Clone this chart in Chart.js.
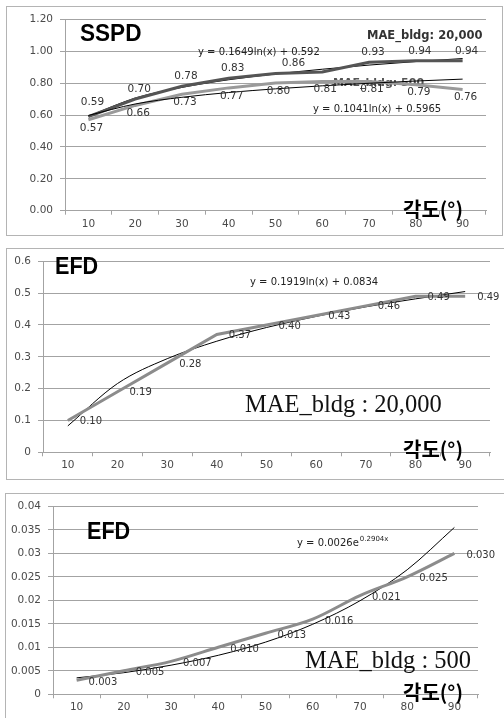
<!DOCTYPE html>
<html>
<head>
<meta charset="utf-8">
<script src="https://cdn.jsdelivr.net/npm/chart.js@4.4.1/dist/chart.umd.min.js"></script>
<style>
  html, body { margin: 0; padding: 0; background: #fff; }
  body { width: 504px; height: 718px; position: relative; overflow: hidden; }
  canvas { position: absolute; }
  .frame { position: absolute; box-sizing: border-box; border: 1px solid #b4b4b4; pointer-events: none; }
</style>
</head>
<body>
<canvas id="c1" width="496" height="229" style="left:6px;top:6px"></canvas>
<div class="frame" style="left:6px;top:6px;width:497px;height:230px"></div>
<canvas id="c2" width="498" height="231" style="left:6px;top:248px"></canvas>
<div class="frame" style="left:6px;top:248px;width:499px;height:232px"></div>
<canvas id="c3" width="499" height="226" style="left:5px;top:493px"></canvas>
<div class="frame" style="left:5px;top:493px;width:500px;height:227px"></div>

<script>
// Angle categories shared by all three charts
const angles = ['10', '20', '30', '40', '50', '60', '70', '80', '90'];

// SSPD, two building sizes, with their log trend lines
const sspd20000 = [0.59, 0.70, 0.78, 0.83, 0.86, 0.87, 0.93, 0.94, 0.94];
const sspd500 = [0.57, 0.66, 0.73, 0.77, 0.80, 0.81, 0.81, 0.79, 0.76];
const sspd20000Trend = [0.592, 0.706, 0.773, 0.821, 0.857, 0.887, 0.913, 0.935, 0.954];
const sspd500Trend = [0.597, 0.669, 0.711, 0.741, 0.764, 0.783, 0.799, 0.813, 0.825];
const sspdTicks = ['0.00', '0.20', '0.40', '0.60', '0.80', '1.00', '1.20'];

// EFD, MAE_bldg 20,000 (log trend)
const efd20000 = [0.10, 0.19, 0.28, 0.37, 0.40, 0.43, 0.46, 0.49, 0.49];
const efd20000Trend = [0.083, 0.216, 0.294, 0.349, 0.392, 0.427, 0.457, 0.482, 0.505];
const efd20000Ticks = ['0', '0.1', '0.2', '0.3', '0.4', '0.5', '0.6'];

// EFD, MAE_bldg 500 (exponential trend)
const efd500 = [0.003, 0.005, 0.007, 0.010, 0.013, 0.016, 0.021, 0.025, 0.030];
const efd500Trend = [0.0035, 0.0046, 0.0062, 0.0083, 0.0111, 0.0149, 0.0199, 0.0265, 0.0355];
const efd500Ticks = ['0', '0.005', '0.01', '0.015', '0.02', '0.025', '0.03', '0.035', '0.04'];

const FONT = 'DejaVu Sans';
const GRID = '#a3a3a3';
const TICK_COLOR = '#4a4a4a';

// Draws each point's value next to it
const valueLabels = {
  id: 'valueLabels',
  afterDatasetsDraw(chart) {
    const ctx = chart.ctx;
    chart.data.datasets.forEach((ds, i) => {
      const o = ds.valueLabel;
      if (!o) return;
      const meta = chart.getDatasetMeta(i);
      ctx.save();
      ctx.font = (o.size || 10.5) + 'px ' + FONT;
      ctx.fillStyle = o.color || '#333';
      ctx.textAlign = o.align || 'center';
      ctx.textBaseline = 'middle';
      meta.data.forEach((pt, j) => {
        if (o.skip && o.skip.includes(j)) return;
        const shift = (o.shift && o.shift[j]) || [0, 0];
        ctx.fillText(ds.data[j].toFixed(o.digits), pt.x + o.dx + shift[0], pt.y + o.dy + shift[1]);
      });
      ctx.restore();
    });
  }
};

// Free text on the chart: titles, trend equations, notes
function drawNotes(chart, layer) {
  const opts = chart.options.plugins.notes;
  if (!opts) return;
  const ctx = chart.ctx;
  opts.items.filter(n => (n.layer || 'after') === layer).forEach(n => {
    ctx.save();
    const x = n.x - opts.ox, y = n.y - opts.oy;
    ctx.font = n.font;
    ctx.fillStyle = n.color || '#000';
    ctx.textAlign = 'left';
    ctx.textBaseline = n.baseline || 'middle';
    ctx.translate(x, y);
    if (n.sx) ctx.scale(n.sx, 1);
    ctx.fillText(n.text, 0, 0);
    if (n.sup) {
      const w = ctx.measureText(n.text).width;
      ctx.font = n.supFont;
      ctx.fillText(n.sup, w + 1, -4);
    }
    ctx.restore();
  });
}
const notes = {
  id: 'notes',
  beforeDatasetsDraw(chart) { drawNotes(chart, 'before'); },
  afterDatasetsDraw(chart) { drawNotes(chart, 'after'); }
};

function makeScales(o) {
  return {
    x: {
      offset: true,
      grid: { offset: true, drawOnChartArea: false, drawTicks: true, tickLength: 4, color: GRID },
      border: { color: GRID },
      ticks: { color: TICK_COLOR, font: { family: FONT, size: 10.5 }, padding: 3, maxRotation: 0, autoSkip: false },
      afterFit(s) { s.height = o.xHeight; }
    },
    y: {
      min: o.min, max: o.max,
      ticks: {
        stepSize: o.step, color: TICK_COLOR, font: { family: FONT, size: 10.5 }, padding: 7,
        callback: (v, i) => o.labels[i]
      },
      grid: { color: GRID, tickLength: 5, drawTicks: true },
      border: { color: GRID },
      afterFit(s) { s.width = o.yWidth; }
    }
  };
}

function dataLine(data, color, width, label, smooth) {
  return {
    data, borderColor: color, borderWidth: width, pointRadius: 0, fill: false,
    tension: 0, cubicInterpolationMode: smooth ? 'monotone' : 'default', valueLabel: label
  };
}
function trendLine(data) {
  return {
    data, borderColor: '#000', borderWidth: 1, pointRadius: 0, fill: false,
    cubicInterpolationMode: 'monotone'
  };
}

function baseOptions(pad, scales, notesCfg) {
  return {
    responsive: false,
    animation: false,
    devicePixelRatio: 1,
    layout: { padding: pad },
    events: [],
    plugins: { legend: { display: false }, tooltip: { enabled: false }, notes: notesCfg },
    scales
  };
}

Chart.register(valueLabels, notes);

// Chart 1: SSPD
new Chart(document.getElementById('c1'), {
  type: 'line',
  data: {
    labels: angles,
    datasets: [
      trendLine(sspd500Trend),
      dataLine(sspd500, '#9a9a9a', 3, { digits: 2, dx: 3, dy: 8 }),
      dataLine(sspd20000, '#555555', 3, { digits: 2, dx: 4, dy: -10, skip: [5], shift: { 0: [0, -4], 4: [14, 0] } }),
      trendLine(sspd20000Trend)
    ]
  },
  options: baseOptions(
    { top: 13, right: 16, left: 0, bottom: 0 },
    makeScales({ min: 0, max: 1.2, step: 0.2, labels: sspdTicks, xHeight: 24.3, yWidth: 59 }),
    {
      ox: 6, oy: 6,
      items: [
        { text: 'SSPD', x: 80, y: 34, font: 'bold 24px "Liberation Sans"', sx: 0.94 },
        { text: 'MAE_bldg: 20,000', x: 367, y: 36, font: 'bold 11.5px ' + FONT, color: '#333' },
        { text: 'y = 0.1649ln(x) + 0.592', x: 198, y: 52, font: '10px ' + FONT, color: '#222' },
        { text: 'MAE_bldg: 500', x: 333, y: 83, font: 'bold 11px ' + FONT, color: '#555', layer: 'before' },
        { text: 'y = 0.1041ln(x) + 0.5965', x: 313, y: 109, font: '10px ' + FONT, color: '#222' },
        { text: '각도(°)', x: 403, y: 209, font: 'bold 20px "Noto Sans CJK KR"' }
      ]
    }
  )
});

// Chart 2: EFD, MAE_bldg 20,000
new Chart(document.getElementById('c2'), {
  type: 'line',
  data: {
    labels: angles,
    datasets: [
      dataLine(efd20000, '#8c8c8c', 3, { digits: 2, dx: 12, dy: 1, align: 'left', size: 10 }),
      trendLine(efd20000Trend)
    ]
  },
  options: baseOptions(
    { top: 11, right: 14, left: 0, bottom: 0 },
    makeScales({ min: 0, max: 0.6, step: 0.1, labels: efd20000Ticks, xHeight: 26.7, yWidth: 37 }),
    {
      ox: 6, oy: 248,
      items: [
        { text: 'EFD', x: 55, y: 267, font: 'bold 24px "Liberation Sans"', sx: 0.9 },
        { text: 'y = 0.1919ln(x) + 0.0834', x: 250, y: 282, font: '10px ' + FONT, color: '#222' },
        { text: 'MAE_bldg : 20,000', x: 245, y: 411.5, baseline: 'alphabetic', font: '24.5px "Liberation Serif"', color: '#111' },
        { text: '각도(°)', x: 403, y: 449, font: 'bold 20px "Noto Sans CJK KR"' }
      ]
    }
  )
});

// Chart 3: EFD, MAE_bldg 500
new Chart(document.getElementById('c3'), {
  type: 'line',
  data: {
    labels: angles,
    datasets: [
      dataLine(efd500, '#8c8c8c', 3, { digits: 3, dx: 12, dy: 2, align: 'left', size: 10 }, true),
      trendLine(efd500Trend)
    ]
  },
  options: baseOptions(
    { top: 11.3, right: 26, left: 0, bottom: 0 },
    makeScales({ min: 0, max: 0.04, step: 0.005, labels: efd500Ticks, xHeight: 24.7, yWidth: 48 }),
    {
      ox: 5, oy: 493,
      items: [
        { text: 'EFD', x: 87, y: 532, font: 'bold 24px "Liberation Sans"', sx: 0.9 },
        { text: 'y = 0.0026e', x: 297, y: 543, font: '10px ' + FONT, color: '#222', sup: '0.2904x', supFont: '7px ' + FONT },
        { text: 'MAE_bldg : 500', x: 305, y: 668, baseline: 'alphabetic', font: '24.5px "Liberation Serif"', color: '#111' },
        { text: '각도(°)', x: 403, y: 692, font: 'bold 20px "Noto Sans CJK KR"' }
      ]
    }
  )
});
</script>
</body>
</html>
